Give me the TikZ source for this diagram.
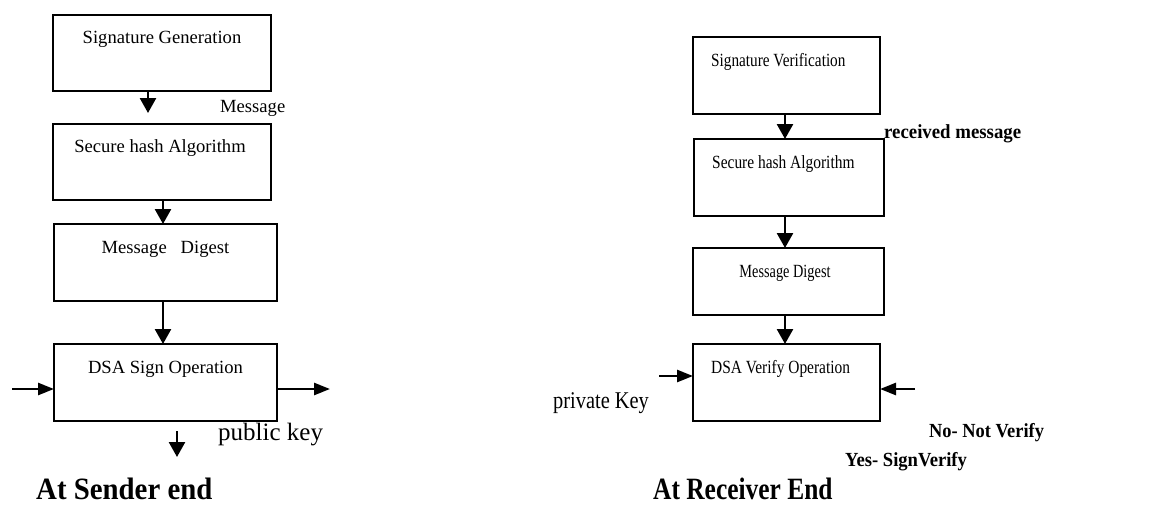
\documentclass[tikz,border=0pt]{standalone}
\usepackage{fontspec}
\setmainfont{Liberation Serif}
\usetikzlibrary{arrows.meta}
\begin{document}
\begin{tikzpicture}[x=1pt,y=-1pt,
  box/.style={draw,line width=2pt,inner sep=0pt,outer sep=0pt},
  txt/.style={inner sep=0pt,font=\fontsize{18.6}{21}\selectfont},
  bl/.style={inner sep=0pt,font=\fontsize{20}{23}\selectfont\bfseries},
  ttl/.style={inner sep=0pt,font=\fontsize{31}{34}\selectfont\bfseries},
  varr/.style={line width=2.6pt,-{Triangle[width=16pt,length=15pt]}},
  harr/.style={line width=2.6pt,-{Triangle[width=12pt,length=16pt]}}]
\useasboundingbox (0,0) rectangle (1154,504);
% ---------- sender side ----------
\node[box,minimum width=218pt,minimum height=76pt] (gen) at (162,53) {};
\node[box,minimum width=218pt,minimum height=76pt] (sha) at (162,162) {};
\node[box,minimum width=223pt,minimum height=77pt] (md) at (165.5,262.5) {};
\node[box,minimum width=223pt,minimum height=77pt] (sign) at (165.5,382.5) {};
\node[txt,anchor=base] (tgen) at (162,43) {Signature Generation};
\node[txt,anchor=base] (tsha) at (160,152) {Secure hash Algorithm};
\node[txt,anchor=base] (tmd) at (165.5,253) {Message\ \ \ Digest};
\node[txt,anchor=base] (tsign) at (165.5,373) {DSA Sign Operation};
\node[txt,anchor=base west] (tmsg) at (220,112) {Message};
\node[inner sep=0pt,font=\fontsize{25}{28}\selectfont,anchor=base west] (tpub) at (218,440) {public key};
\node[ttl,anchor=base west] (tsend) at (36,499) {\scalebox{0.93}[1]{At Sender end}};
\coordinate (c148) at (148,0);
\coordinate (c163) at (163,0);
\coordinate (a1e) at (148,113);
\coordinate (kin) at (12,389);
\coordinate (kout) at (330,389);
\coordinate (d1) at (177,431);
\coordinate (d2) at (177,457);
\draw[varr] (gen.south -| c148) -- (a1e);
\draw[varr] (sha.south -| c163) -- (md.north -| c163);
\draw[varr] (md.south -| c163) -- (sign.north -| c163);
\draw[harr] (kin) -- (sign.west |- kin);
\draw[harr] (sign.east |- kout) -- (kout);
\draw[varr] (d1) -- (d2);
% ---------- receiver side ----------
\node[box,minimum width=187pt,minimum height=77pt] (ver) at (786.5,75.5) {};
\node[box,minimum width=190pt,minimum height=77pt] (sha2) at (789,177.5) {};
\node[box,minimum width=191pt,minimum height=67pt] (md2) at (788.5,281.5) {};
\node[box,minimum width=187pt,minimum height=77pt] (vop) at (786.5,382.5) {};
\node[txt,anchor=base west] (tver) at (711,66) {\scalebox{0.82}[1]{Signature Verification}};
\node[bl,anchor=base west] (trec) at (884,138) {\scalebox{0.94}[1]{received message}};
\node[txt,anchor=base west] (tsha2) at (712,168) {\scalebox{0.83}[1]{Secure hash Algorithm}};
\node[txt,anchor=base] (tmd2) at (785,277) {\scalebox{0.77}[1]{Message Digest}};
\node[txt,anchor=base west] (tvop) at (711,373) {\scalebox{0.83}[1]{DSA Verify Operation}};
\node[inner sep=0pt,font=\fontsize{24}{27}\selectfont,anchor=base west] (tpriv) at (553,408) {\scalebox{0.85}[1]{private Key}};
\node[bl,anchor=base west] (tno) at (929,437) {\scalebox{0.92}[1]{No- Not Verify}};
\node[bl,anchor=base west] (tyes) at (845,466) {\scalebox{0.93}[1]{Yes- SignVerify}};
\node[ttl,anchor=base west] (trecv) at (653,499) {\scalebox{0.82}[1]{At Receiver End}};
\coordinate (c785) at (785,0);
\coordinate (pin) at (659,376);
\coordinate (nin) at (915,389);
\draw[varr] (ver.south -| c785) -- (sha2.north -| c785);
\draw[varr] (sha2.south -| c785) -- (md2.north -| c785);
\draw[varr] (md2.south -| c785) -- (vop.north -| c785);
\draw[harr] (pin) -- (vop.west |- pin);
\draw[harr] (nin) -- (vop.east |- nin);
\end{tikzpicture}
\end{document}
